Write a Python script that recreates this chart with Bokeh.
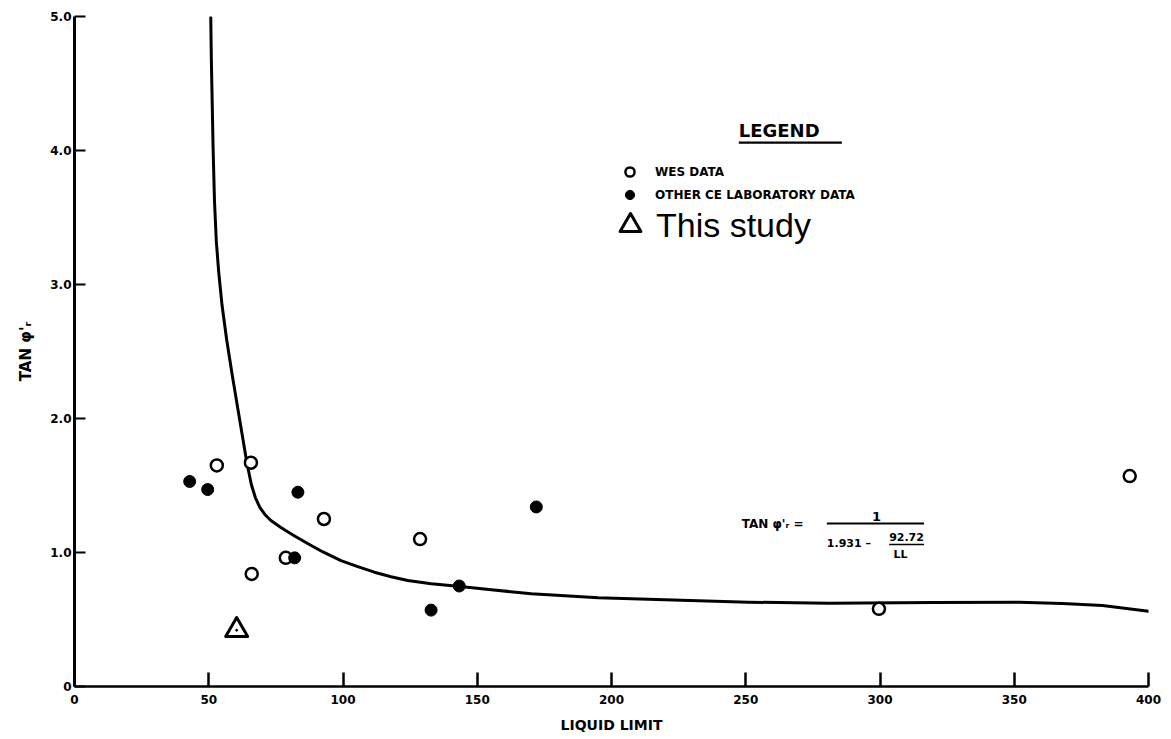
from bokeh.plotting import figure
from bokeh.models import Range1d, FixedTicker, Legend, LegendItem, Label, BoxAnnotation
from bokeh.embed import file_html
from bokeh.resources import INLINE

# ---- data ----
wes_ll = [53.0, 65.7, 66.0, 78.7, 92.9, 128.7, 299.6, 393.0]
wes_tan = [1.65, 1.67, 0.84, 0.96, 1.25, 1.10, 0.58, 1.57]

ce_ll = [42.9, 49.6, 83.2, 82.0, 132.8, 143.3, 172.0]
ce_tan = [1.53, 1.47, 1.45, 0.96, 0.57, 0.75, 1.34]

study_ll = [60.4]
study_tan = [0.42]

curve_ll = [50.75, 50.97, 51.27, 51.64, 52.13, 52.80, 53.66, 54.96, 56.72,
            58.77, 60.82, 62.69, 64.18, 65.86, 67.35, 69.03, 70.90, 73.13,
            76.87, 81.34, 86.83, 92.54, 99.25, 105.22, 111.68, 117.91, 124.14,
            132.84, 142.80, 155.22, 170.15, 195.04, 219.89, 251.01, 280.86,
            320.15, 351.75, 367.91, 382.84, 400.0]
curve_tan = [4.993, 4.672, 4.373, 4.000, 3.627, 3.328, 3.104, 2.843, 2.582,
             2.321, 2.075, 1.851, 1.672, 1.507, 1.410, 1.336, 1.284, 1.239,
             1.187, 1.131, 1.067, 1.004, 0.940, 0.896, 0.853, 0.819, 0.791,
             0.766, 0.749, 0.722, 0.692, 0.662, 0.647, 0.629, 0.622,
             0.627, 0.629, 0.619, 0.604, 0.562]

x_ticks = [0, 50, 100, 150, 200, 250, 300, 350, 400]
y_ticks = [0, 1, 2, 3, 4, 5]
y_tick_labels = ["0", "1.0", "2.0", "3.0", "4.0", "5.0"]

FONT = "DejaVu Sans"

p = figure(width=1171, height=739, output_backend="svg", toolbar_location=None,
           x_range=Range1d(0, 400), y_range=Range1d(0, 5),
           min_border_left=74, min_border_right=23, min_border_top=16,
           min_border_bottom=53)
p.outline_line_color = None
p.xgrid.visible = False
p.ygrid.visible = False
p.background_fill_color = "white"
p.border_fill_color = "white"

# axes
xa = p.xaxis[0]
ya = p.yaxis[0]
xa.ticker = FixedTicker(ticks=x_ticks)
ya.ticker = FixedTicker(ticks=y_ticks)
ya.major_label_overrides = {t: l for t, l in zip(y_ticks, y_tick_labels)}
for ax in (xa, ya):
    ax.axis_line_color = "black"
    ax.major_tick_line_color = "black"
    ax.minor_tick_line_color = None
    ax.major_tick_out = 0
    ax.major_label_text_font = FONT
    ax.major_label_text_font_style = "bold"
    ax.major_label_text_font_size = "12px"
    ax.major_label_text_color = "black"
    ax.axis_label_text_font = FONT
    ax.axis_label_text_font_style = "bold"
    ax.axis_label_text_color = "black"
xa.axis_line_width = 2.5
xa.major_tick_line_width = 2.5
xa.major_tick_in = 14
xa.major_label_standoff = 8
xa.axis_label = "LIQUID LIMIT"
xa.axis_label_text_font_size = "14px"
xa.axis_label_standoff = 10

ya.axis_line_width = 3
ya.major_tick_line_width = 2
ya.major_tick_in = 11
ya.major_label_standoff = 3
ya.axis_label = "TAN \u03c6'\u1d63"
ya.axis_label_text_font_size = "15px"
ya.axis_label_standoff = 12

# curve
p.line(curve_ll, curve_tan, line_color="black", line_width=3, line_join="round",
       line_cap="round")

# data points
r_wes = p.scatter(wes_ll, wes_tan, marker="circle", size=12, fill_color="white",
                  line_color="black", line_width=2.5)
r_ce = p.scatter(ce_ll, ce_tan, marker="circle", size=12, fill_color="black",
                 line_color="black", line_width=1)
r_study = p.scatter(study_ll, study_tan, marker="triangle", size=22,
                    fill_color="white", line_color="black", line_width=3,
                    line_join="round")
p.scatter(study_ll, study_tan, marker="circle", size=2, fill_color="black",
          line_color="black")

# legend
leg1 = Legend(items=[LegendItem(label="WES DATA", renderers=[r_wes]),
                     LegendItem(label="OTHER CE LABORATORY DATA", renderers=[r_ce])],
              location=(543, 480), orientation="vertical",
              glyph_width=25, glyph_height=23, spacing=0, padding=0, margin=0,
              label_standoff=13, label_text_font=FONT, label_text_font_style="bold",
              label_text_font_size="12px", label_text_color="black",
              background_fill_alpha=0, border_line_alpha=0)
leg2 = Legend(items=[LegendItem(label="This study", renderers=[r_study])],
              location=(530, 431), orientation="vertical",
              glyph_width=52, glyph_height=60, spacing=0, padding=0, margin=0,
              label_standoff=0, label_text_font="Liberation Sans",
              label_text_font_size="34px", label_text_color="black",
              background_fill_alpha=0, border_line_alpha=0)
p.add_layout(leg1)
p.add_layout(leg2)

# "LEGEND" heading with underline
p.add_layout(Label(x=247.4, y=4.15, text="LEGEND", text_font=FONT,
                   text_font_style="bold", text_font_size="18px",
                   text_baseline="middle", text_align="left", text_color="black"))
p.add_layout(BoxAnnotation(left=247.4, right=285.8, bottom=4.05, top=4.067,
                           fill_color="black", fill_alpha=1, line_alpha=0))

# equation
eq_style = dict(text_font=FONT, text_font_style="bold", text_color="black",
                text_baseline="middle", text_align="left")
p.add_layout(Label(x=248.5, y=1.209, text="TAN \u03c6'\u1d63 =", text_font_size="12px", **eq_style))
p.add_layout(Label(x=297.0, y=1.268, text="1", text_font_size="13px", **eq_style))
p.add_layout(Label(x=280.2, y=1.067, text="1.931 \u2013", text_font_size="11px", **eq_style))
p.add_layout(Label(x=303.4, y=1.115, text="92.72", text_font_size="11px", **eq_style))
p.add_layout(Label(x=305.0, y=0.985, text="LL", text_font_size="11px", **eq_style))
p.add_layout(BoxAnnotation(left=280.2, right=316.4, bottom=1.209, top=1.224,
                           fill_color="black", fill_alpha=1, line_alpha=0))
p.add_layout(BoxAnnotation(left=303.4, right=316.4, bottom=1.055, top=1.066,
                           fill_color="black", fill_alpha=1, line_alpha=0))

open("out.html", "w").write(file_html(p, INLINE))
